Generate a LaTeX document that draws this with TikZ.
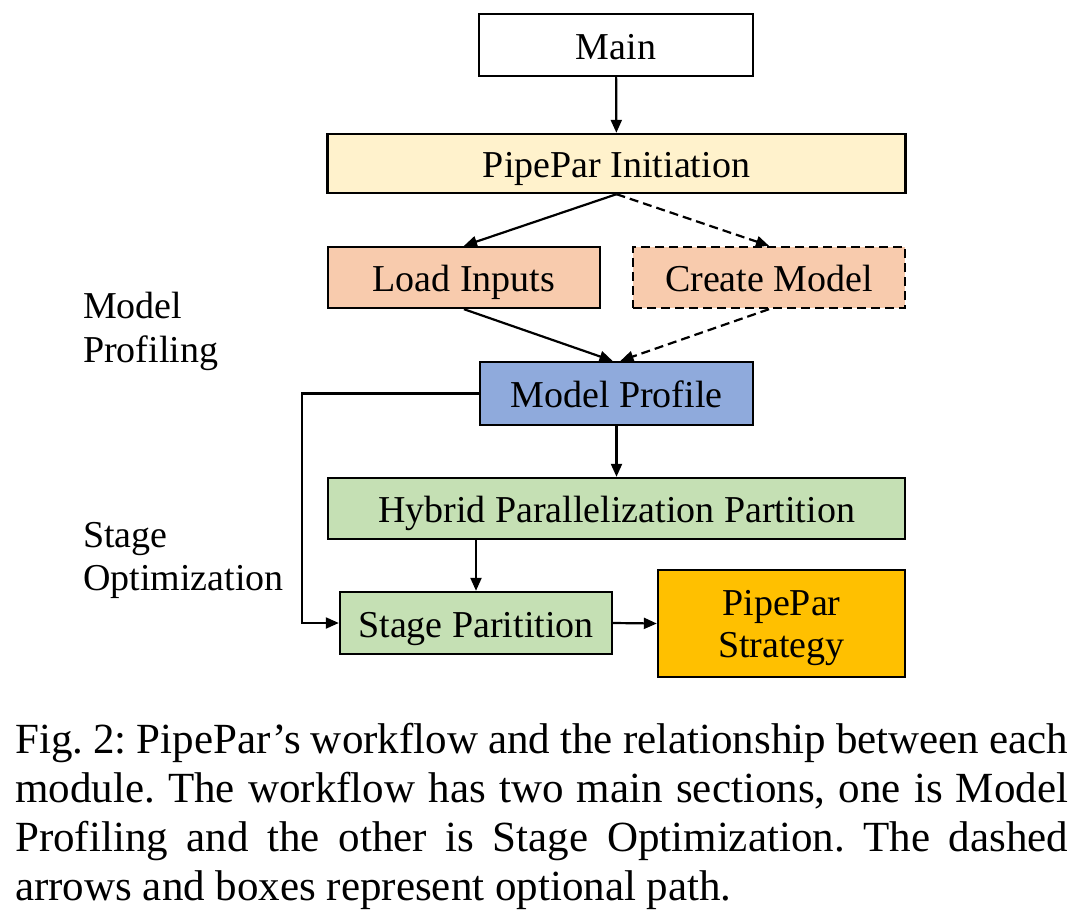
\documentclass[tikz,border=0pt]{standalone}
\usepackage{fontspec}
\setmainfont{Liberation Serif}
\usetikzlibrary{arrows.meta}
\definecolor{cinit}{HTML}{FFF2CC}
\definecolor{cload}{HTML}{F8CBAD}
\definecolor{cprof}{HTML}{8FAADC}
\definecolor{cgreen}{HTML}{C5E0B4}
\definecolor{cstrat}{HTML}{FFC000}
\begin{document}
\begin{tikzpicture}[x=1pt,y=-1pt,
  box/.style={draw=black, line width=2.4pt, inner sep=0pt, font=\fontsize{38}{44}\selectfont, align=center, text height=29pt, text depth=1pt},
  conn/.style={line width=2.2pt, -{Triangle[length=13pt,width=11pt]}},
  optional/.style={dash pattern=on 9pt off 5pt},
  lbl/.style={anchor=base west, inner sep=0pt, font=\fontsize{38}{44}\selectfont},
  captionline/.style={anchor=base west, inner sep=0pt, font=\fontsize{43}{49}\selectfont\frenchspacing}]
\useasboundingbox (0,0) rectangle (1081,918);
\node[box, fill=white, minimum width=274pt, minimum height=62pt] (main) at (616,45) {Main};
\node[box, fill=cinit, minimum width=578pt, minimum height=59pt] (init) at (616.5,163.5) {PipePar Initiation};
\node[box, fill=cload, minimum width=272pt, minimum height=61pt] (load) at (464,277.5) {Load Inputs};
\node[box, fill=cload, optional, minimum width=272pt, minimum height=61pt] (create) at (769,277.5) {Create Model};
\node[box, fill=cprof, minimum width=273pt, minimum height=63pt] (prof) at (616.5,393.5) {Model Profile};
\node[box, fill=cgreen, minimum width=577pt, minimum height=61pt] (hybrid) at (616.5,508.5) {Hybrid Parallelization Partition};
\node[box, fill=cgreen, minimum width=272pt, minimum height=62pt] (stagep) at (476,623) {Stage Paritition};
\node[box, fill=cstrat, minimum width=247pt, minimum height=107pt, text height=70pt, text depth=3pt] (strat) at (781.5,623.5) {PipePar\\[-2pt]Strategy};

\node[lbl] (l1a) at (83,318) {Model};
\node[lbl] (l1b) at (83,362) {Profiling};
\node[lbl] (l2a) at (83,547) {Stage};
\node[lbl] (l2b) at (83,590) {Optimization};

\coordinate (loop) at (302,393.5);
\draw[conn] (main) -- (init);
\draw[conn] (init.south) -- (load.north);
\draw[conn, optional] (init.south) -- (create.north);
\draw[conn] (load.south) -- ([xshift=-4pt]prof.north);
\draw[conn, optional] (create.south) -- ([xshift=4pt]prof.north);
\draw[conn] (prof) -- (hybrid);
\draw[conn] (stagep.north |- hybrid.south) -- (stagep.north);
\draw[conn] (prof.west) -- (loop) |- (stagep.west);
\draw[conn] (stagep.east) -- (strat.west);

\node[captionline] (c1) at (15,753) {\makebox[1053pt][s]{Fig. 2: PipePar’s workflow and the relationship between each}};
\node[captionline] (c2) at (15,802) {\makebox[1053pt][s]{module. The workflow has two main sections, one is Model}};
\node[captionline] (c3) at (15,851) {\makebox[1053pt][s]{Profiling and the other is Stage Optimization. The dashed}};
\node[captionline] (c4) at (15,900) {arrows and boxes represent optional path.};
\end{tikzpicture}
\end{document}
